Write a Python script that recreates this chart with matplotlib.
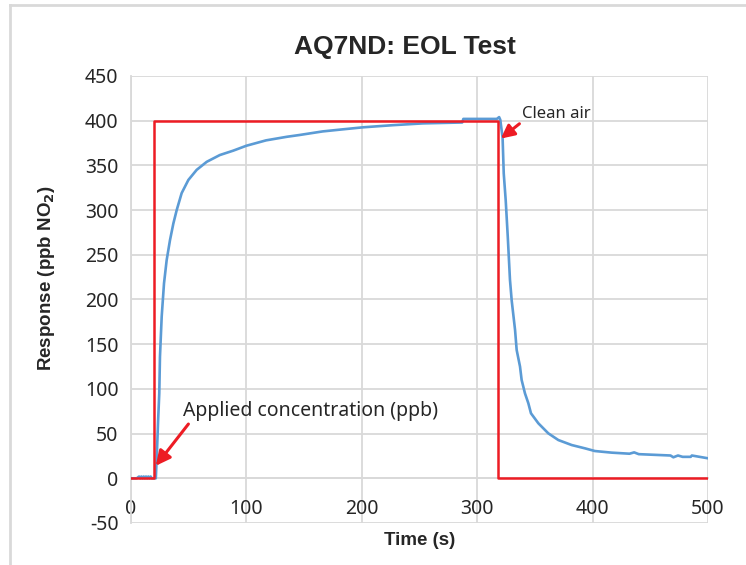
import matplotlib
matplotlib.use('Agg')
import matplotlib.pyplot as plt
from matplotlib.lines import Line2D

plt.rcParams['font.family'] = ['Noto Sans', 'DejaVu Sans']
plt.rcParams['axes.unicode_minus'] = False

# applied NO2 step (ppb)
applied_t = [0, 20, 20, 318, 318, 500]
applied_ppb = [0, 0, 400, 400, 0, 0]

# sensor response
resp_t = [0, 5, 7, 8, 9, 10, 11, 12, 13, 14, 15, 16, 17, 18, 20, 21.5,
          22.5, 23.5, 24.5, 25.1, 26.6, 28.6, 30.9, 33.8, 36.7, 39.6,
          43.9, 49.7, 56.9, 65.6, 77, 88.6, 100, 117, 135, 146, 166, 181,
          201, 227, 253, 287, 288, 300, 317, 319, 320, 322, 323, 324.7,
          326.5, 328.4, 329.9, 332.8, 334.2, 337.1, 338.5, 341.4, 344.3,
          346.6, 353, 361.6, 370.3, 381.9, 393.4, 402, 416.5, 432, 436,
          440, 467.5, 470, 474, 478, 485, 486, 499]
resp_ppb = [0, 0, 2, 0, 2, 0, 2, 0, 2, 0, 2, 0, 2, 0, 0, 0,
            30, 65, 95, 136, 181, 218, 244, 266.5, 285, 300,
            319, 333.7, 345, 354, 361.6, 366.5, 372, 378, 382, 384, 388, 390,
            392.6, 395, 397, 398, 402, 402, 402, 404, 401, 381, 341, 311,
            270, 222, 198.7, 166, 143.5, 125, 110, 95, 84,
            72.7, 61.5, 50.3, 42.8, 37.2, 33.5, 30.5, 28.7, 27.5, 29,
            27, 25.5, 23.5, 25.5, 24, 24, 25.5, 22.6]

x_ticks = [0, 100, 200, 300, 400, 500]
y_ticks = [-50, 0, 50, 100, 150, 200, 250, 300, 350, 400, 450]

grid_col = '#D9D9D9'
red = '#ED1C24'
blue = '#5B9BD5'
txt = '#262626'
bold_font = ['Liberation Sans', 'DejaVu Sans']

fig = plt.figure(figsize=(7.46, 5.65), dpi=100)
ax = fig.add_axes([131 / 746, 1 - 523 / 565, 577 / 746, 447 / 565])

ax.plot(resp_t, resp_ppb, color=blue, lw=1.9, zorder=3)
ax.plot(applied_t, applied_ppb, color=red, lw=1.8, zorder=4)

ax.set_xlim(0, 500)
ax.set_ylim(-50, 450)
ax.set_xticks(x_ticks)
ax.set_yticks(y_ticks)
ax.grid(True, color=grid_col, lw=1.3)
ax.set_axisbelow(True)

for side in ['top', 'right']:
    ax.spines[side].set_visible(False)
ax.spines['left'].set_color(grid_col)
ax.spines['left'].set_linewidth(1.3)
ax.spines['bottom'].set_position(('data', 0))
ax.spines['bottom'].set_color(grid_col)
ax.spines['bottom'].set_linewidth(1.3)
ax.tick_params(length=0, labelsize=14, colors=txt)
ax.tick_params(axis='x', pad=15)
ax.tick_params(axis='y', pad=9)

ax.set_title('AQ7ND: EOL Test', fontsize=19, fontweight='bold', pad=16,
             color=txt, family=bold_font, x=0.474)
ax.set_xlabel('Time (s)', fontsize=13.5, fontweight='bold', color=txt,
              family=bold_font)
ax.xaxis.set_label_coords(0.5, -0.02)
ax.set_ylabel('Response (ppb NO$_\\mathbf{2}$)', fontsize=13.5,
              fontweight='bold', color=txt, family=bold_font)
ax.yaxis.set_label_coords(-0.128, 0.548)

ax.annotate('Applied concentration (ppb)', xy=(21.5, 14), xytext=(45, 75),
            fontsize=14, color=txt, va='center', zorder=5,
            arrowprops=dict(arrowstyle='-|>', color=red, lw=2.2,
                            shrinkA=0, shrinkB=0, mutation_scale=22,
                            relpos=(0.03, 0.0)))
ax.annotate('Clean air', xy=(320.5, 380), xytext=(339, 408),
            fontsize=12, color=txt, va='center', zorder=5,
            arrowprops=dict(arrowstyle='-|>', color=red, lw=2.2,
                            shrinkA=0, shrinkB=0, mutation_scale=20,
                            relpos=(0.0, 0.0)))

# chart-area frame (only left and top edges visible in the crop)
fig.add_artist(Line2D([10 / 746, 10 / 746], [0, 1 - 5 / 565],
                      color=grid_col, lw=2, transform=fig.transFigure))
fig.add_artist(Line2D([10 / 746, 1], [1 - 5 / 565, 1 - 5 / 565],
                      color=grid_col, lw=2, transform=fig.transFigure))

fig.savefig('out.png', dpi=100)
